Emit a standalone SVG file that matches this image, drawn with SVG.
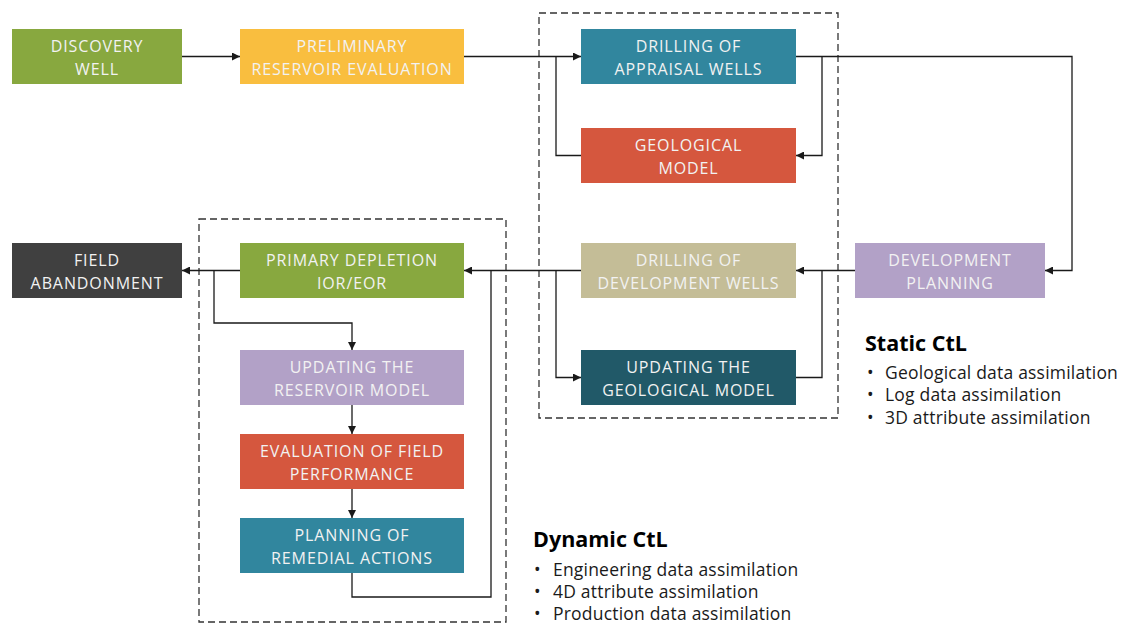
<svg xmlns="http://www.w3.org/2000/svg" width="1127" height="624" viewBox="0 0 1127 624">
  <style>
    .box text { font-family: "Open Sans", "Liberation Sans", sans-serif; font-size: 16px; letter-spacing: 0.9px; fill: #F2F2F2; text-anchor: middle; }
    .wire { fill: none; stroke: #1a1a1a; stroke-width: 1.3; }
    .frame { fill: none; stroke: #333; stroke-width: 1.3; stroke-dasharray: 7 4; }
    .title { font-family: "Open Sans", "Liberation Sans", sans-serif; font-size: 21.5px; font-weight: bold; fill: #000; }
    .item { font-family: "Open Sans", "Liberation Sans", sans-serif; font-size: 17.5px; letter-spacing: 0.2px; fill: #1a1a1a; }
  </style>
  <defs>
    <marker id="arrow" markerUnits="userSpaceOnUse" markerWidth="8" markerHeight="8" refX="8" refY="4" orient="auto">
      <path d="M0,0 L8,4 L0,8 z" fill="#1a1a1a"/>
    </marker>
  </defs>
  <rect width="1127" height="624" fill="#fff"/>

  <!-- stage frames -->
  <rect class="frame" x="539" y="13" width="299" height="405"/>
  <rect class="frame" x="199" y="219" width="307" height="403"/>

  <!-- connectors -->
  <g id="connectors">
    <path class="wire" d="M182,56.5 H240" marker-end="url(#arrow)"/>
    <path class="wire" d="M464,56.5 H581" marker-end="url(#arrow)"/>
    <path class="wire" d="M581,155.5 H556 V56.5"/>
    <path class="wire" d="M796,56.5 H1072 V270.5 H1045" marker-end="url(#arrow)"/>
    <path class="wire" d="M822,56.5 V155.5 H796" marker-end="url(#arrow)"/>
    <path class="wire" d="M855,270.5 H796" marker-end="url(#arrow)"/>
    <path class="wire" d="M796,377.5 H822 V270.5"/>
    <path class="wire" d="M581,270.5 H464" marker-end="url(#arrow)"/>
    <path class="wire" d="M556,270.5 V377.5 H581" marker-end="url(#arrow)"/>
    <path class="wire" d="M240,270.5 H182" marker-end="url(#arrow)"/>
    <path class="wire" d="M214,270.5 V323 H352 V350" marker-end="url(#arrow)"/>
    <path class="wire" d="M352,405 V434" marker-end="url(#arrow)"/>
    <path class="wire" d="M352,489 V518" marker-end="url(#arrow)"/>
    <path class="wire" d="M352,573 V597 H491 V270.5"/>
  </g>

  <!-- nodes -->
  <g id="discovery-well" class="box">
    <rect x="12" y="29" width="170" height="55" fill="#88A83F"/>
    <text x="97" y="52">DISCOVERY</text>
    <text x="97" y="75">WELL</text>
  </g>
  <g id="preliminary-evaluation" class="box">
    <rect x="240" y="29" width="224" height="55" fill="#F9BE3F"/>
    <text x="352" y="52">PRELIMINARY</text>
    <text x="352" y="75">RESERVOIR EVALUATION</text>
  </g>
  <g id="appraisal-wells" class="box">
    <rect x="581" y="29" width="215" height="55" fill="#31869E"/>
    <text x="688.5" y="52">DRILLING OF</text>
    <text x="688.5" y="75">APPRAISAL WELLS</text>
  </g>
  <g id="geological-model" class="box">
    <rect x="581" y="128" width="215" height="55" fill="#D5573E"/>
    <text x="688.5" y="151">GEOLOGICAL</text>
    <text x="688.5" y="174">MODEL</text>
  </g>
  <g id="development-wells" class="box">
    <rect x="581" y="243" width="215" height="55" fill="#C4BD97"/>
    <text x="688.5" y="266">DRILLING OF</text>
    <text x="688.5" y="289">DEVELOPMENT WELLS</text>
  </g>
  <g id="update-geological-model" class="box">
    <rect x="581" y="350" width="215" height="55" fill="#215968"/>
    <text x="688.5" y="373">UPDATING THE</text>
    <text x="688.5" y="396">GEOLOGICAL MODEL</text>
  </g>
  <g id="development-planning" class="box">
    <rect x="855" y="243" width="190" height="55" fill="#B2A1C7"/>
    <text x="950" y="266">DEVELOPMENT</text>
    <text x="950" y="289">PLANNING</text>
  </g>
  <g id="field-abandonment" class="box">
    <rect x="12" y="243" width="170" height="55" fill="#404040"/>
    <text x="97" y="266">FIELD</text>
    <text x="97" y="289">ABANDONMENT</text>
  </g>
  <g id="primary-depletion" class="box">
    <rect x="240" y="243" width="224" height="55" fill="#88A83F"/>
    <text x="352" y="266">PRIMARY DEPLETION</text>
    <text x="352" y="289">IOR/EOR</text>
  </g>
  <g id="update-reservoir-model" class="box">
    <rect x="240" y="350" width="224" height="55" fill="#B2A1C7"/>
    <text x="352" y="373">UPDATING THE</text>
    <text x="352" y="396">RESERVOIR MODEL</text>
  </g>
  <g id="field-performance" class="box">
    <rect x="240" y="434" width="224" height="55" fill="#D5573E"/>
    <text x="352" y="457">EVALUATION OF FIELD</text>
    <text x="352" y="480">PERFORMANCE</text>
  </g>
  <g id="remedial-actions" class="box">
    <rect x="240" y="518" width="224" height="55" fill="#31869E"/>
    <text x="352" y="541">PLANNING OF</text>
    <text x="352" y="564">REMEDIAL ACTIONS</text>
  </g>

  <!-- legends -->
  <g id="static-ctl">
    <text class="title" x="865" y="351">Static CtL</text>
    <text class="item" x="867" y="379">•</text>
    <text class="item" x="885" y="379">Geological data assimilation</text>
    <text class="item" x="867" y="401">•</text>
    <text class="item" x="885" y="401">Log data assimilation</text>
    <text class="item" x="867" y="424">•</text>
    <text class="item" x="885" y="424">3D attribute assimilation</text>
  </g>
  <g id="dynamic-ctl">
    <text class="title" x="533" y="547">Dynamic CtL</text>
    <text class="item" x="534" y="576">•</text>
    <text class="item" x="553" y="576">Engineering data assimilation</text>
    <text class="item" x="534" y="598">•</text>
    <text class="item" x="553" y="598">4D attribute assimilation</text>
    <text class="item" x="534" y="620">•</text>
    <text class="item" x="553" y="620">Production data assimilation</text>
  </g>
</svg>
